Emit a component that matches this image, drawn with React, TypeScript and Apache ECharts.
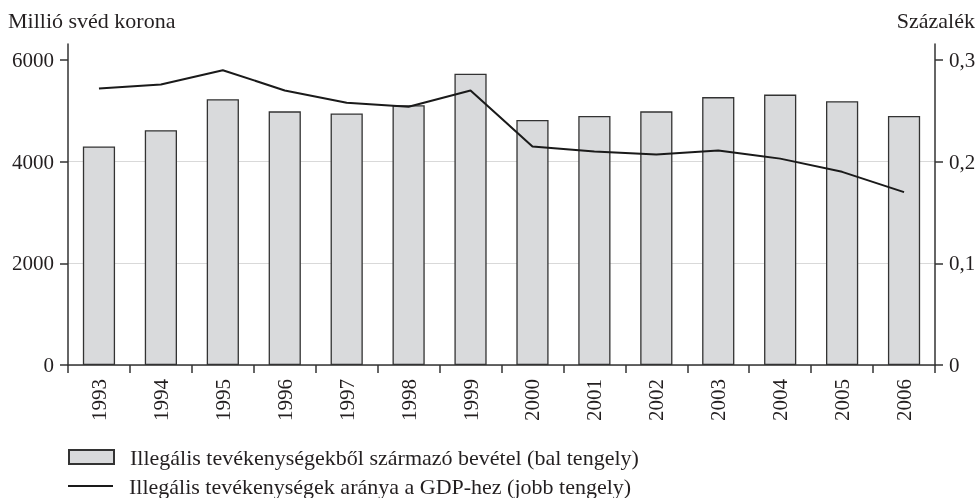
import React, { useEffect, useRef } from "react";
import * as echarts from "echarts";

const years = ["1993", "1994", "1995", "1996", "1997", "1998", "1999", "2000", "2001", "2002", "2003", "2004", "2005", "2006"];
const revenue = [4300, 4620, 5230, 4990, 4950, 5110, 5730, 4820, 4900, 4990, 5270, 5320, 5190, 4900];
const gdpShare = [0.272, 0.276, 0.29, 0.27, 0.258, 0.254, 0.27, 0.215, 0.21, 0.207, 0.211, 0.203, 0.19, 0.17];
const leftTicks = [0, 2000, 4000, 6000];
const rightTicks = [0, 0.1, 0.2, 0.3];
const barName = "Illegális tevékenységekből származó bevétel (bal tengely)";
const lineName = "Illegális tevékenységek aránya a GDP-hez (jobb tengely)";
const leftTitle = "Millió svéd korona";
const rightTitle = "Százalék";

const FONT = "'Liberation Serif', 'DejaVu Serif', serif";
const TXT = "#231f20";
const AX = "#333333";

export default function App() {
  const ref = useRef<HTMLDivElement>(null);
  useEffect(() => {
    if (!ref.current) return;
    const chart = echarts.init(ref.current, undefined, { renderer: "svg" });
    const leftMax = 6315;
    const rightMax = (leftMax / 6000) * 0.3;
    const legendText = { fontFamily: FONT, fontSize: 22, lineHeight: 22, color: TXT, padding: [0, 0, 0, 11] };
    chart.setOption({
      animation: false,
      textStyle: { fontFamily: FONT, color: TXT },
      grid: { left: 68, right: 44, top: 44, bottom: 133, containLabel: false },
      graphic: [
        { type: "text", left: 8, top: 9, style: { text: leftTitle, font: `22px ${FONT}`, fill: TXT } },
        { type: "text", right: 4, top: 9, style: { text: rightTitle, font: `22px ${FONT}`, fill: TXT } },
      ],
      legend: [
        {
          left: 68,
          top: 446,
          padding: 0,
          itemWidth: 45,
          itemHeight: 14,
          textStyle: legendText,
          data: [{ name: barName, icon: "rect" }],
        },
        {
          left: 68,
          top: 475,
          padding: 0,
          itemWidth: 45,
          itemHeight: 2,
          textStyle: legendText,
          data: [{ name: lineName, icon: "rect", itemStyle: { color: "#1a1a1a", borderWidth: 0 } }],
        },
      ],
      xAxis: {
        type: "category",
        data: years,
        boundaryGap: true,
        axisLine: { lineStyle: { color: AX, width: 1.5 } },
        axisTick: { show: true, length: 8, alignWithLabel: false, lineStyle: { color: AX, width: 1.5 } },
        axisLabel: { rotate: 90, margin: 14, fontFamily: FONT, fontSize: 21, color: TXT },
        splitLine: { show: false },
      },
      yAxis: [
        {
          type: "value",
          min: 0,
          max: leftMax,
          interval: 2000,
          position: "left",
          axisLine: { show: true, lineStyle: { color: AX, width: 1.5 } },
          axisTick: { show: true, length: 8, customValues: leftTicks, lineStyle: { color: AX, width: 1.5 } },
          axisLabel: {
            margin: 14,
            fontFamily: FONT,
            fontSize: 21,
            color: TXT,
            customValues: leftTicks,
            formatter: (v: number) => String(v),
          },
          splitLine: { show: true, showMaxLine: false, lineStyle: { color: "#d9d9d9", width: 1.2 } },
        },
        {
          type: "value",
          min: 0,
          max: rightMax,
          interval: 0.1,
          position: "right",
          axisLine: { show: true, lineStyle: { color: AX, width: 1.5 } },
          axisTick: { show: true, length: 8, customValues: rightTicks, lineStyle: { color: AX, width: 1.5 } },
          axisLabel: {
            margin: 14,
            fontFamily: FONT,
            fontSize: 21,
            color: TXT,
            customValues: rightTicks,
            formatter: (v: number) => (v === 0 ? "0" : v.toFixed(1).replace(".", ",")),
          },
          splitLine: { show: false },
        },
      ],
      series: [
        {
          name: barName,
          type: "bar",
          data: revenue,
          barWidth: "52%",
          yAxisIndex: 0,
          itemStyle: { color: "#d9dadc", borderColor: "#333333", borderWidth: 1.3 },
        },
        {
          name: lineName,
          type: "line",
          data: gdpShare,
          yAxisIndex: 1,
          symbol: "none",
          showSymbol: false,
          lineStyle: { color: "#1a1a1a", width: 2 },
          itemStyle: { color: "#1a1a1a" },
        },
      ],
    });
    return () => chart.dispose();
  }, []);
  return <div ref={ref} style={{ position: "fixed", left: 0, top: 0, width: 979, height: 498 }} />;
}
